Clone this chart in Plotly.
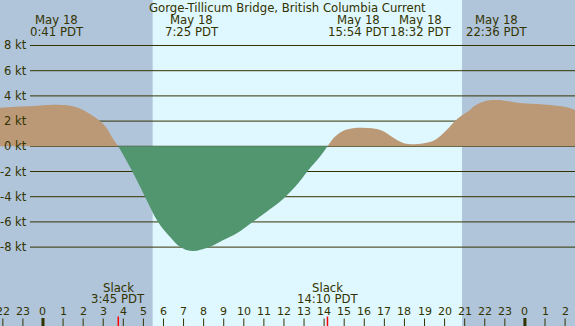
import plotly.graph_objects as go

# ---------------- data ----------------
# hours relative to May 18 00:00 (PDT), current speed in knots
flood1_t = [-2.2, -1.15, -0.5, 0.2, 0.68, 1.2, 1.5, 1.84, 2.34, 2.84, 3.19, 3.49, 3.75]
flood1_v = [3.05, 3.15, 3.2, 3.27, 3.3, 3.26, 3.18, 3.0, 2.56, 2.0, 1.4, 0.58, 0.0]

ebb_t = [3.75, 4.45, 5.08, 5.73, 6.32, 6.82, 7.41, 8.32, 8.98, 9.65, 10.39, 11.14, 11.8, 12.05, 12.71, 13.16, 13.79, 14.17]
ebb_v = [0.0, -2.0, -4.0, -6.0, -7.17, -7.97, -8.31, -7.97, -7.44, -6.9, -6.06, -5.19, -4.4, -4.05, -2.94, -2.0, -0.83, 0.0]

flood2_t = [14.17, 14.54, 15.04, 15.45, 15.9, 16.4, 16.87, 17.37, 17.94, 18.53, 19.1, 19.52, 20.1, 20.52, 20.77, 21.27, 21.43, 21.93, 22.6, 23.92, 25.25, 26.08, 26.6]
flood2_v = [0.0, 0.76, 1.29, 1.44, 1.48, 1.43, 1.25, 0.76, 0.26, 0.16, 0.28, 0.5, 1.29, 2.0, 2.35, 2.88, 3.14, 3.54, 3.67, 3.41, 3.28, 3.1, 2.8]

# max/min current events (top labels)
event_t = [0.683, 7.417, 15.9, 18.533, 22.6]
event_date = ["May 18", "May 18", "May 18", "May 18", "May 18"]
event_time = ["0:41 PDT", "7:25 PDT", "15:54 PDT", "18:32 PDT", "22:36 PDT"]

# slack events (bottom labels)
slack_t = [3.75, 14.167]
slack_time = ["3:45 PDT", "14:10 PDT"]

# sunrise / sunset (hours)
sunrise = 5.46
sunset = 20.87

y_ticks = [-8, -6, -4, -2, 0, 2, 4, 6, 8]
y_tick_labels = ["-8 kt", "-6 kt", "-4 kt", "-2 kt", "0 kt", "2 kt", "4 kt", "6 kt", "8 kt"]
hour_ticks = list(range(-2, 27))
hour_labels = [str(h % 24) for h in hour_ticks]

title_text = "Gorge-Tillicum Bridge, British Columbia Current"

# ---------------- style ----------------
W, H = 575, 326
X_RANGE = [-2.141, 26.494]
Y_RANGE = [-14.26, 11.61]
DAY = "#DFF7FF"
NIGHT = "#B0C4DA"
FLOOD = "#BB9977"
EBB = "#52966F"
INK = "#333300"
FONT = "DejaVu Sans"


def py(p):
    return 1 - p / H


fig = go.Figure()

for tt, vv, col in [(flood1_t, flood1_v, FLOOD), (ebb_t, ebb_v, EBB), (flood2_t, flood2_v, FLOOD)]:
    fig.add_trace(go.Scatter(x=tt, y=vv, mode="lines", line=dict(width=0, shape="spline", smoothing=1.0),
                             fill="tozeroy", fillcolor=col, hoverinfo="skip"))

shapes = []
# night shading
shapes.append(dict(type="rect", xref="x", yref="paper", x0=X_RANGE[0] - 1, x1=sunrise, y0=0, y1=1,
                   fillcolor=NIGHT, line=dict(width=0), layer="below"))
shapes.append(dict(type="rect", xref="x", yref="paper", x0=sunset, x1=X_RANGE[1] + 1, y0=0, y1=1,
                   fillcolor=NIGHT, line=dict(width=0), layer="below"))
# grid lines
for v in y_ticks:
    shapes.append(dict(type="line", xref="paper", yref="y", x0=30 / W, x1=1, y0=v, y1=v,
                       line=dict(color=INK, width=1), layer="below"))
# hour ticks
for h in hour_ticks:
    if h % 24 == 0:
        shapes.append(dict(type="line", xref="x", yref="paper", x0=h, x1=h, y0=0, y1=py(318),
                           line=dict(color=INK, width=3)))
    else:
        shapes.append(dict(type="line", xref="x", yref="paper", x0=h, x1=h, y0=0, y1=py(318.5),
                           line=dict(color=INK, width=1)))
# slack ticks
for t in slack_t:
    shapes.append(dict(type="line", xref="x", yref="paper", x0=t, x1=t, y0=0, y1=py(316.5),
                       line=dict(color="#FF0000", width=1.5)))

ann = []
ann.append(dict(text=title_text, xref="paper", yref="paper", x=0.5, y=py(7.6), xanchor="center", yanchor="middle",
                showarrow=False, font=dict(family=FONT, size=11.7, color=INK)))
shifts = [0, 0, -4, 5, 0]
for t, d, tm, s in zip(event_t, event_date, event_time, shifts):
    ann.append(dict(text=d, xref="x", yref="paper", x=t, y=py(19.6), xshift=s, xanchor="center", yanchor="middle",
                    showarrow=False, font=dict(family=FONT, size=11.7, color=INK)))
    ann.append(dict(text=tm, xref="x", yref="paper", x=t, y=py(31.7), xshift=s, xanchor="center", yanchor="middle",
                    showarrow=False, font=dict(family=FONT, size=11.7, color=INK)))
for t, tm in zip(slack_t, slack_time):
    ann.append(dict(text="Slack", xref="x", yref="paper", x=t, y=py(287.5), xanchor="center", yanchor="middle",
                    showarrow=False, font=dict(family=FONT, size=11.7, color=INK)))
    ann.append(dict(text=tm, xref="x", yref="paper", x=t, y=py(299.2), xanchor="center", yanchor="middle",
                    showarrow=False, font=dict(family=FONT, size=11.7, color=INK)))
for h, lab in zip(hour_ticks, hour_labels):
    ann.append(dict(text=lab, xref="x", yref="paper", x=h, y=py(311.7), xanchor="center", yanchor="middle",
                    showarrow=False, font=dict(family=FONT, size=11, color=INK)))
for v, lab in zip(y_ticks, y_tick_labels):
    ann.append(dict(text=lab, xref="paper", yref="y", x=28.5 / W, y=v, xanchor="right", yanchor="middle",
                    showarrow=False, font=dict(family=FONT, size=11.5, color=INK)))

fig.update_layout(
    width=W, height=H,
    margin=dict(l=0, r=0, t=0, b=0),
    paper_bgcolor=DAY, plot_bgcolor=DAY,
    showlegend=False,
    xaxis=dict(range=X_RANGE, visible=False, fixedrange=True),
    yaxis=dict(range=Y_RANGE, visible=False, fixedrange=True),
    shapes=shapes, annotations=ann,
)

fig.write_html("out.html", config={"displayModeBar": False, "staticPlot": True},
               post_script="document.body.style.margin='0';document.body.style.overflow='hidden';")
